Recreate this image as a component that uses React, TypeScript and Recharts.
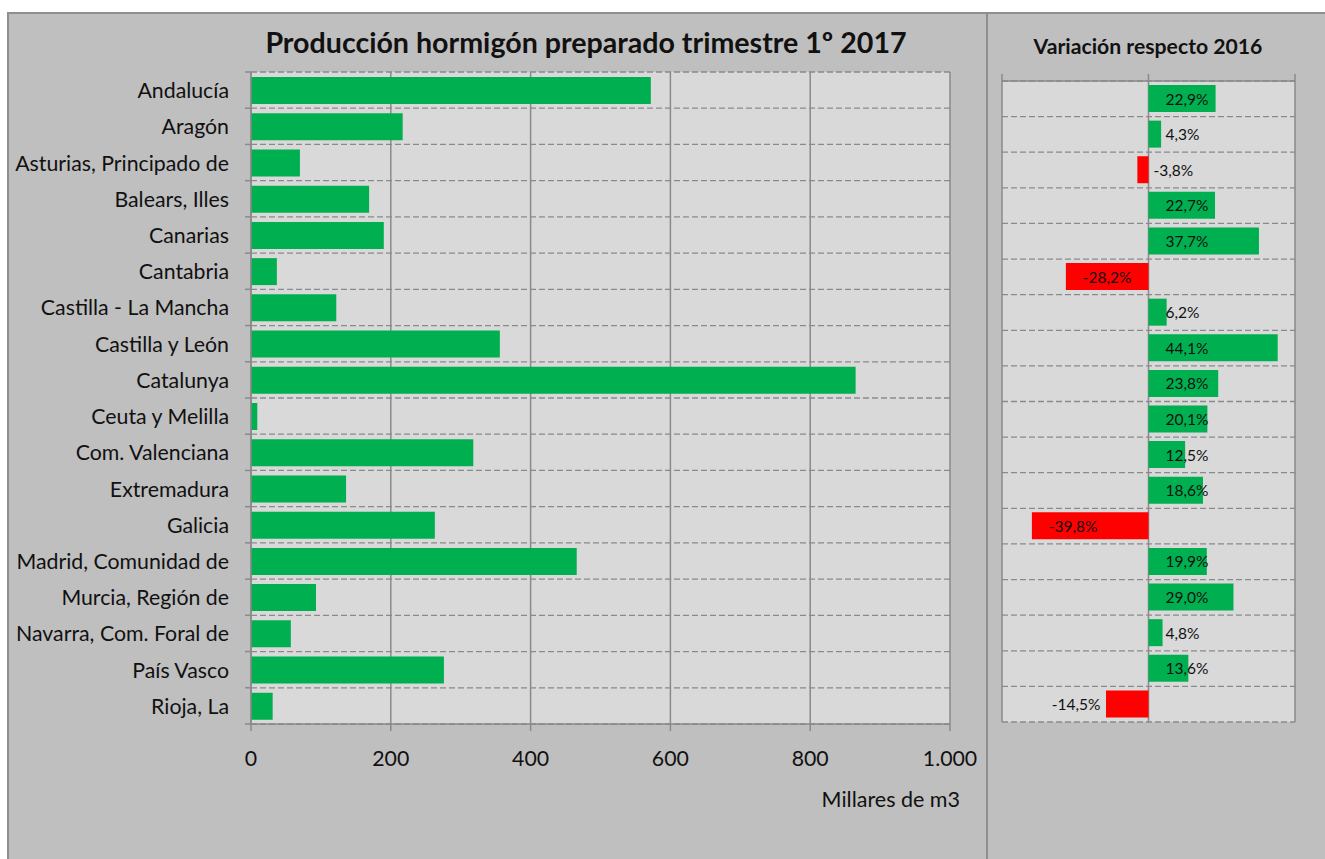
import React from 'react';
import { BarChart, Bar, XAxis, YAxis, CartesianGrid, Cell, LabelList } from 'recharts';

const regions = [
  'Andalucía', 'Aragón', 'Asturias, Principado de', 'Balears, Illes', 'Canarias', 'Cantabria',
  'Castilla - La Mancha', 'Castilla y León', 'Catalunya', 'Ceuta y Melilla', 'Com. Valenciana',
  'Extremadura', 'Galicia', 'Madrid, Comunidad de', 'Murcia, Región de', 'Navarra, Com. Foral de',
  'País Vasco', 'Rioja, La',
];
const production = [572, 217, 70, 169, 190, 37, 122, 356, 865, 9, 318, 136, 263, 466, 93, 57, 276, 31];
const variation = [22.9, 4.3, -3.8, 22.7, 37.7, -28.2, 6.2, 44.1, 23.8, 20.1, 12.5, 18.6, -39.8, 19.9, 29.0, 4.8, 13.6, -14.5];
const prodTicks = [0, 200, 400, 600, 800, 1000];
const varTicks = [-50, 0, 50];

const TITLE = 'Producción hormigón preparado trimestre 1º 2017';
const VAR_TITLE = 'Variación respecto 2016';
const UNIT = 'Millares de m3';

const FONT = 'Lato, "Open Sans", sans-serif';
const GREEN = '#00B050';
const RED = '#FF0000';
const GRID = '#8a8a8a';
const NEG_LABEL_GAP: Record<number, number> = { 5: 17, 12: 51, 17: 48 };

// right chart layout
const R_W = 338;
const R_MARGIN = { top: 48, right: 30, bottom: 137, left: 15 };
const R_PLOT_W = R_W - R_MARGIN.left - R_MARGIN.right;
const VAR_DOMAIN: [number, number] = [-50, 50];

const prodData = regions.map((name, i) => ({ name, value: production[i] }));
const varData = regions.map((name, i) => ({ name, value: variation[i] }));

const fmtThousands = (v: number) => String(v).replace(/\B(?=(\d{3})+(?!\d))/g, '.');
const fmtPct = (v: number) => v.toFixed(1).replace('.', ',') + '%';

const bandLines = (props: any) => {
  const off = props.offset;
  const n = regions.length;
  return Array.from({ length: n + 1 }, (_, i) => off.top + (off.height * i) / n);
};

const LeftTick = (props: any) => {
  const { x, y, payload, index } = props;
  const half = payload && typeof payload.offset === 'number' ? payload.offset : 18.1;
  return (
    <g>
      <text x={x - 22} y={y} textAnchor="end" dominantBaseline="central" fontFamily={FONT} fontSize={21.3} fill="#111">
        {payload.value}
      </text>
      <line x1={x - 6} x2={x} y1={y - half} y2={y - half} stroke={GRID} strokeWidth={1.5} />
      {index === regions.length - 1 && (
        <line x1={x - 6} x2={x} y1={y + half} y2={y + half} stroke={GRID} strokeWidth={1.5} />
      )}
    </g>
  );
};

const ZeroTick = (props: any) => {
  const { x, y, payload, index } = props;
  const half = payload && typeof payload.offset === 'number' ? payload.offset : 17.8;
  const zx = x + (R_PLOT_W * (0 - VAR_DOMAIN[0])) / (VAR_DOMAIN[1] - VAR_DOMAIN[0]);
  return (
    <g>
      <line x1={zx - 7} x2={zx} y1={y - half} y2={y - half} stroke={GRID} strokeWidth={1.5} />
      {index === regions.length - 1 && (
        <line x1={zx - 7} x2={zx} y1={y + half} y2={y + half} stroke={GRID} strokeWidth={1.5} />
      )}
    </g>
  );
};

const VarLabel = (props: any) => {
  const { x, y, width, height, value, index } = props;
  const cy = y + height / 2;
  let tx = x + 17;
  let anchor: 'start' | 'end' = 'start';
  if (value < 0) {
    if (Math.abs(width) < 20) {
      tx = x + 5;
    } else {
      tx = x - (NEG_LABEL_GAP[index] ?? 17);
      anchor = 'end';
    }
  }
  return (
    <text x={tx} y={cy} textAnchor={anchor} dominantBaseline="central" fontFamily={FONT} fontSize={15.5} fill="#111">
      {fmtPct(value)}
    </text>
  );
};

export default function App() {
  return (
    <div style={{ position: 'fixed', left: 0, top: 0, width: 1325, height: 859, overflow: 'hidden', background: '#fff' }}>
      <div style={{ position: 'absolute', left: 7, top: 12, width: 1400, height: 900, background: '#bfbfbf', border: '2px solid #8e8e8e', boxSizing: 'border-box' }} />
      <div style={{ position: 'absolute', left: 986, top: 13, width: 2, height: 846, background: '#8e8e8e' }} />

      <div style={{ position: 'absolute', left: 8, top: 13 }}>
        <BarChart width={979} height={846} data={prodData} layout="vertical" margin={{ top: 59, right: 37, bottom: 95, left: 0 }} barSize={27}>
          <CartesianGrid fill="#d9d9d9" vertical={false} horizontalCoordinatesGenerator={bandLines} stroke={GRID} strokeDasharray="6 3" strokeWidth={1.3} />
          <CartesianGrid horizontal={false} stroke={GRID} strokeWidth={1.5} />
          <XAxis type="number" domain={[0, 1000]} ticks={prodTicks} interval={0} height={40} tickSize={7} tickMargin={20}
            axisLine={{ stroke: GRID, strokeWidth: 1.5 }} tickLine={{ stroke: GRID, strokeWidth: 1.5 }}
            tick={{ fontFamily: FONT, fontSize: 21.3, fill: '#111' }} tickFormatter={fmtThousands} />
          <YAxis type="category" dataKey="name" width={243} interval={0} tickSize={0} tickMargin={0}
            axisLine={{ stroke: GRID, strokeWidth: 1.5 }} tickLine={false} tick={<LeftTick />} />
          <Bar dataKey="value" fill={GREEN} isAnimationActive={false} />
        </BarChart>
      </div>

      <div style={{ position: 'absolute', left: 987, top: 13 }}>
        <BarChart width={R_W} height={846} data={varData} layout="vertical" margin={R_MARGIN} barSize={27}>
          <CartesianGrid fill="#d9d9d9" vertical={false} horizontalCoordinatesGenerator={bandLines} stroke={GRID} strokeDasharray="6 3" strokeWidth={1.3} />
          <CartesianGrid horizontal={false} stroke={GRID} strokeWidth={1.5} />
          <XAxis type="number" orientation="top" domain={VAR_DOMAIN} ticks={varTicks} interval={0} height={20} tickSize={7}
            axisLine={{ stroke: GRID, strokeWidth: 1.5 }} tickLine={{ stroke: GRID, strokeWidth: 1.5 }}
            tickFormatter={() => ''} />
          <YAxis type="category" dataKey="name" width={0} interval={0} tickSize={0} tickMargin={0}
            axisLine={false} tickLine={false} tick={<ZeroTick />} />
          <Bar dataKey="value" isAnimationActive={false}>
            {varData.map((d, i) => (
              <Cell key={i} fill={d.value < 0 ? RED : GREEN} />
            ))}
            <LabelList dataKey="value" content={<VarLabel />} />
          </Bar>
        </BarChart>
      </div>

      <div style={{ position: 'absolute', left: 0, top: 24, width: 1172, textAlign: 'center', fontFamily: FONT, fontWeight: 700, fontSize: 28.6, color: '#111', lineHeight: '36px', whiteSpace: 'nowrap' }}>
        {TITLE}
      </div>
      <div style={{ position: 'absolute', left: 988, top: 33, width: 320, textAlign: 'center', fontFamily: FONT, fontWeight: 700, fontSize: 21.2, color: '#111', lineHeight: '26px', whiteSpace: 'nowrap' }}>
        {VAR_TITLE}
      </div>
      <div style={{ position: 'absolute', left: 801, top: 786, width: 159, textAlign: 'right', fontFamily: FONT, fontSize: 21.5, color: '#111', lineHeight: '26px', whiteSpace: 'nowrap' }}>
        {UNIT}
      </div>
    </div>
  );
}
